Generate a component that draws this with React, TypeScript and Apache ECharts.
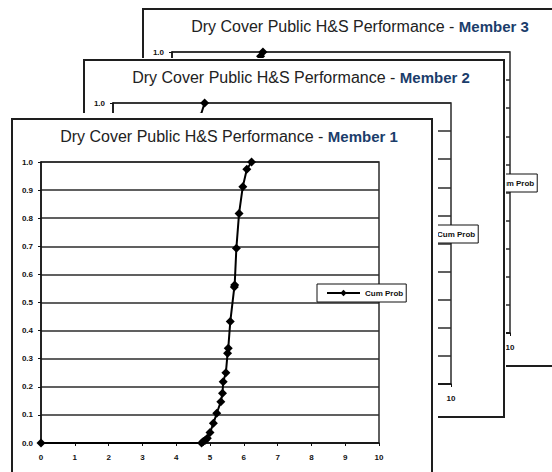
import React, { useEffect, useRef } from "react";
import * as echarts from "echarts";

// ---- Data ----
const titleText = "Dry Cover Public H&S Performance - ";
const memberNames = ["Member 1", "Member 2", "Member 3"];
const legendName = "Cum Prob";

const member1X = [0, 4.75, 4.8, 4.86, 4.92, 5.0, 5.1, 5.2, 5.32, 5.37, 5.39, 5.47, 5.52, 5.54, 5.6, 5.72, 5.73, 5.78, 5.86, 5.97, 6.09, 6.23];
const member1Y = [0, 0, 0.005, 0.01, 0.017, 0.037, 0.07, 0.106, 0.147, 0.177, 0.218, 0.25, 0.319, 0.337, 0.432, 0.555, 0.562, 0.693, 0.817, 0.912, 0.974, 1.0];

const member2X = [0, 1.9, 2.0, 2.1, 2.2, 2.3, 2.4, 2.5, 2.58, 2.71];
const member2Y = [0, 0, 0.04, 0.12, 0.25, 0.42, 0.62, 0.82, 0.95, 1.0];

const member3X = [0, 1.9, 2.0, 2.15, 2.3, 2.45, 2.55, 2.62, 2.69];
const member3Y = [0, 0, 0.05, 0.2, 0.45, 0.7, 0.9, 0.985, 1.0];

const xMin = 0;
const xMax = 10;
const xInterval = 1;
const yMin = 0;
const yMax = 1;
const yInterval = 0.1;

const FONT = "'Liberation Sans', Arial, sans-serif";

// panels from back (index 0) to front (index 2)
const panels = [
  { x: 143, y: 9, member: 2, xs: member3X, ys: member3Y, margin: 2, front: false },
  { x: 84, y: 60, member: 1, xs: member2X, ys: member2Y, margin: 2, front: false },
  { x: 12, y: 119, member: 0, xs: member1X, ys: member1Y, margin: 6, front: true },
];

const PANEL_W = 420;
const PANEL_H = 357;

export default function App() {
  const ref = useRef<HTMLDivElement>(null);

  useEffect(() => {
    document.body.style.margin = "0";
    if (!ref.current) return;
    const chart = echarts.init(ref.current, undefined, { renderer: "svg" });

    const grids: any[] = [];
    const xAxes: any[] = [];
    const yAxes: any[] = [];
    const series: any[] = [];
    const legends: any[] = [];
    const graphics: any[] = [];

    panels.forEach((p, k) => {
      const base = k * 10;
      graphics.push({
        type: "rect",
        z: base,
        shape: { x: p.x - p.margin, y: p.y - p.margin, width: PANEL_W + 2 * p.margin, height: PANEL_H + 2 * p.margin },
        style: { fill: "#ffffff", stroke: null },
      });
      graphics.push({
        type: "rect",
        z: base + 0.5,
        shape: { x: p.x, y: p.y, width: PANEL_W, height: PANEL_H },
        style: { fill: "#ffffff", stroke: "#1e1e1e", lineWidth: 2 },
      });
      graphics.push({
        type: "text",
        z: base + 5,
        x: p.x + 217,
        y: p.y + 17,
        style: {
          text: "{a|" + titleText + "}{b|" + memberNames[p.member] + "}",
          align: "center",
          verticalAlign: "middle",
          rich: {
            a: { fontSize: 16, fontFamily: FONT, fill: "#222222" },
            b: { fontSize: 15, fontFamily: FONT, fontWeight: "bold", fill: "#1b3d6b" },
          },
        },
      });

      grids.push({
        left: p.x + 29,
        top: p.y + 43,
        width: 338,
        height: 281,
        show: true,
        backgroundColor: "transparent",
        borderColor: "#2b2b2b",
        borderWidth: 1.5,
        z: base + 1,
      });

      xAxes.push({
        type: "value",
        gridIndex: k,
        min: xMin,
        max: xMax,
        interval: xInterval,
        z: base + 2,
        axisLine: { show: true, onZero: false, lineStyle: { color: "#111", width: 1.5 } },
        axisTick: { show: true, inside: false, length: 3, lineStyle: { color: "#111", width: 1 } },
        splitLine: { show: false },
        axisLabel: {
          margin: 10,
          fontSize: 8,
          fontWeight: "bold",
          fontFamily: FONT,
          color: "#111",
          formatter: (v: number) => (p.front || v === xMax ? String(v) : ""),
        },
      });

      yAxes.push({
        type: "value",
        gridIndex: k,
        min: yMin,
        max: yMax,
        interval: yInterval,
        z: base + 2,
        axisLine: { show: true, lineStyle: { color: "#111", width: 1.5 } },
        axisTick: { show: true, inside: false, length: 3, lineStyle: { color: "#111", width: 1 } },
        splitLine: { show: true, lineStyle: { color: "#2b2b2b", width: 1.5 } },
        axisLabel: {
          margin: 8,
          fontSize: 8,
          fontWeight: "bold",
          fontFamily: FONT,
          color: "#111",
          formatter: (v: number) => (p.front || v === yMax ? v.toFixed(1) : ""),
        },
      });

      series.push({
        type: "line",
        name: legendName,
        xAxisIndex: k,
        yAxisIndex: k,
        z: base + 3,
        clip: false,
        symbol: "diamond",
        symbolSize: 9,
        showAllSymbol: true,
        lineStyle: { color: "#000", width: 2 },
        itemStyle: { color: "#000" },
        data: p.xs.map((x, i) => [x, p.ys[i]]),
      });

      legends.push({
        data: [legendName],
        left: p.x + 305,
        top: p.y + 165,
        orient: "horizontal",
        z: base + 4,
        padding: [5, 3, 5, 9],
        itemWidth: 33,
        itemHeight: 8,
        borderColor: "#111",
        borderWidth: 1,
        backgroundColor: "#ffffff",
        selectedMode: false,
        textStyle: { fontSize: 8, fontWeight: "bold", fontFamily: FONT, color: "#111" },
      });
    });

    chart.setOption({
      animation: false,
      backgroundColor: "#ffffff",
      grid: grids,
      xAxis: xAxes,
      yAxis: yAxes,
      series,
      legend: legends,
      graphic: { elements: graphics },
    });

    return () => chart.dispose();
  }, []);

  return <div ref={ref} style={{ width: 552, height: 472 }} />;
}
